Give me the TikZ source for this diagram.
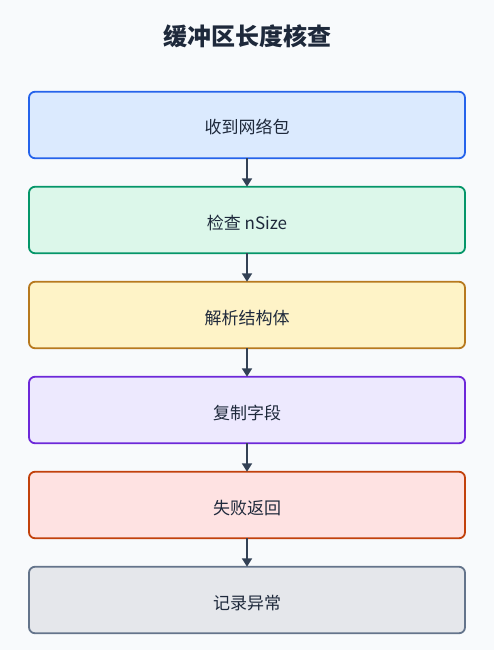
\documentclass[tikz,border=0pt]{standalone}
\usepackage{fontspec}
\setmainfont{Noto Sans CJK SC}
\usepackage{tikz}
\usetikzlibrary{positioning,arrows.meta}

\definecolor{pagebg}{HTML}{F8FAFC}
\definecolor{inkdark}{HTML}{1E293B}
\definecolor{arrowcol}{HTML}{334155}
\definecolor{recvfill}{HTML}{DBEAFE}\definecolor{recvline}{HTML}{2563EB}
\definecolor{checkfill}{HTML}{DCF7EA}\definecolor{checkline}{HTML}{059669}
\definecolor{parsefill}{HTML}{FEF3C7}\definecolor{parseline}{HTML}{B7791F}
\definecolor{copyfill}{HTML}{EDE9FE}\definecolor{copyline}{HTML}{6D28D9}
\definecolor{failfill}{HTML}{FEE2E2}\definecolor{failline}{HTML}{C2410C}
\definecolor{logfill}{HTML}{E5E7EB}\definecolor{logline}{HTML}{64748B}

\begin{document}
\begin{tikzpicture}[x=1pt,y=1pt,
  stepbox/.style={draw, line width=1.8pt, rounded corners=6pt, outer sep=0pt,
    minimum width=436pt, minimum height=66.5pt, text=inkdark,
    text height=20pt, text depth=2pt,
    font=\fontsize{17}{20}\selectfont},
  flow/.style={-{Triangle[length=8.5pt,width=10pt]}, line width=2pt, arrowcol},
  node distance=28.5pt]
% Background and title
\fill[pagebg] (0,0) rectangle (494,-650);
\useasboundingbox (0,0) rectangle (494,-650);
\node[text=inkdark, font=\fontsize{24}{28}\selectfont\bfseries] (title) at (247,-36) {缓冲区长度核查};

% Steps
\node[stepbox, draw=recvline, fill=recvfill] (recv) at (247,-125) {收到网络包};
\node[stepbox, draw=checkline, fill=checkfill, below=of recv] (check) {检查 nSize};
\node[stepbox, draw=parseline, fill=parsefill, below=of check] (parse) {解析结构体};
\node[stepbox, draw=copyline, fill=copyfill, below=of parse] (copy) {复制字段};
\node[stepbox, draw=failline, fill=failfill, below=of copy] (fail) {失败返回};
\node[stepbox, draw=logline, fill=logfill, below=of fail] (log) {记录异常};

% Arrows
\foreach \a/\b in {recv/check, check/parse, parse/copy, copy/fail, fail/log}
{
    \draw[flow] (\a) -- (\b);
}
\end{tikzpicture}
\end{document}
